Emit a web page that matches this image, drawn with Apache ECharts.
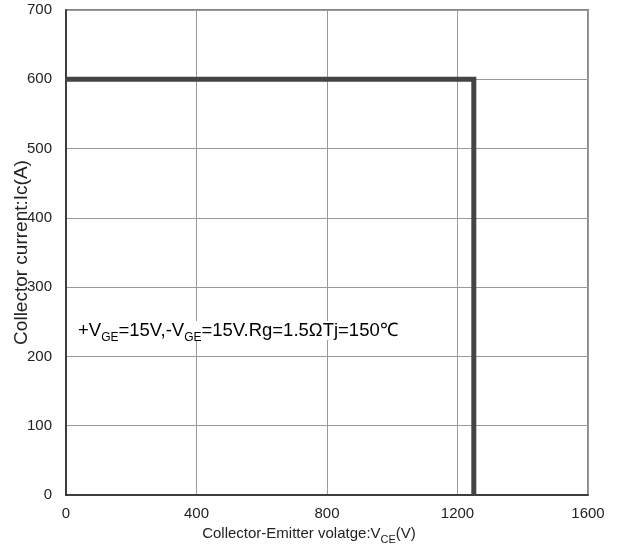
<!DOCTYPE html>
<html>
<head>
<meta charset="utf-8">
<script src="https://cdn.jsdelivr.net/npm/echarts@6/dist/echarts.min.js"></script>
<style>
  html, body { margin: 0; padding: 0; background: #fff; }
  #main { width: 619px; height: 555px; }
</style>
</head>
<body>
<div id="main"></div>
<script>
// RBSOA boundary
var vce = [0, 1250, 1250];
var ic = [600, 600, 0];
var xTicks = [0, 400, 800, 1200, 1600];
var yTicks = [0, 100, 200, 300, 400, 500, 600, 700];

var myChart = echarts.init(document.getElementById('main'));

var sub = { fontSize: 11, verticalAlign: 'bottom', padding: [0, 0, -4, 0], fontFamily: 'Liberation Sans', color: '#222' };

var option = {
	backgroundColor: '#fff',
	animation: false,
	textStyle: { fontFamily: 'Liberation Sans' },
	grid: {
		left: 66, right: 31, top: 10, bottom: 60,
		containLabel: false,
		outerBoundsMode: 'none',
		show: true, borderColor: '#888', borderWidth: 2
	},
	xAxis: {
		type: 'value',
		min: xTicks[0], max: xTicks[xTicks.length - 1], interval: 400,
		name: '{n|Collector-Emitter volatge:V}{s|CE}{n|(V)}',
		nameLocation: 'middle',
		nameGap: 31,
		nameMoveOverlap: false,
		nameTextStyle: {
			padding: [0, 36, 0, 0],
			rich: { n: { fontSize: 15, color: '#222', fontFamily: 'Liberation Sans' }, s: sub }
		},
		axisLine: { lineStyle: { color: '#222', width: 1.5 } },
		axisTick: { show: false },
		axisLabel: { fontSize: 15, color: '#222', margin: 11, formatter: function (v) { return String(v); } },
		splitLine: { lineStyle: { color: '#999', width: 1 } }
	},
	yAxis: {
		type: 'value',
		min: yTicks[0], max: yTicks[yTicks.length - 1], interval: 100,
		name: 'Collector current:Ic(A)',
		nameLocation: 'middle',
		nameGap: 35,
		nameMoveOverlap: false,
		nameTextStyle: { fontSize: 19, color: '#222' },
		axisLine: { show: true, lineStyle: { color: '#222', width: 1.5 } },
		axisTick: { show: false },
		axisLabel: { fontSize: 15, color: '#222', margin: 14, formatter: function (v) { return String(v); } },
		splitLine: { lineStyle: { color: '#999', width: 1 } }
	},
	graphic: [{
		type: 'text',
		left: 78, top: 321,
		z: 10,
		style: {
			text: '{n|+V}{s|GE}{n|=15V,-V}{s|GE}{n|=15V.Rg=1.5ΩTj=150℃}',
			backgroundColor: '#fff',
			rich: { n: { fontSize: 18.5, color: '#222', fontFamily: 'Liberation Sans' }, s: { fontSize: 12, verticalAlign: 'bottom', padding: [0, 0, -4, 0], color: '#222', fontFamily: 'Liberation Sans' } }
		}
	}],
	series: [{
		type: 'line',
		data: vce.map(function (v, i) { return [v, ic[i]]; }),
		showSymbol: false,
		symbol: 'none',
		lineStyle: { color: '#444', width: 5, join: 'miter' },
		z: 5
	}]
};

myChart.setOption(option);
</script>
</body>
</html>
